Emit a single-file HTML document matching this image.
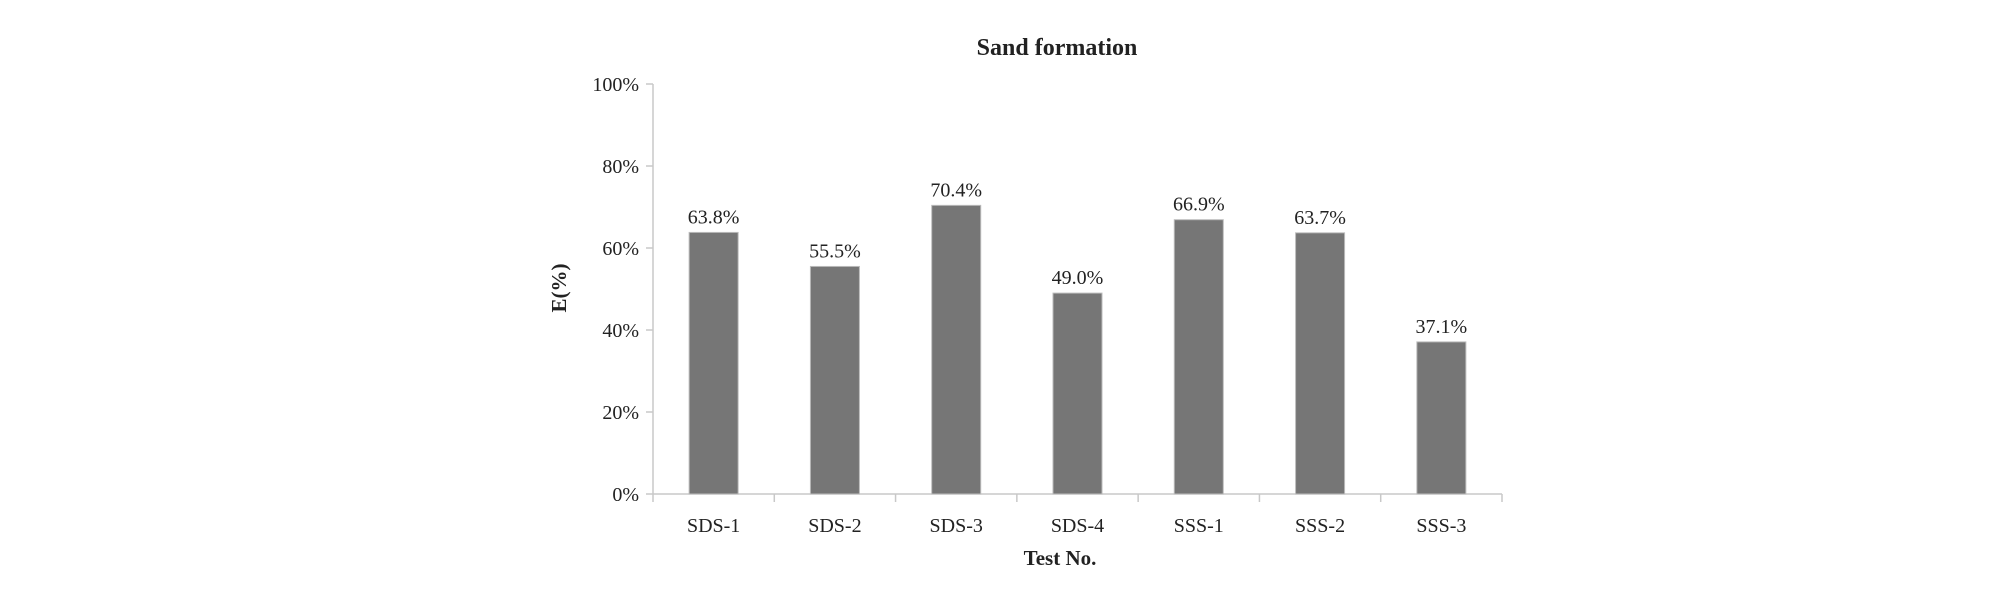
<!DOCTYPE html>
<html><head><meta charset="utf-8"><style>
body{margin:0;background:#fff;}
svg text{font-family:"Liberation Serif",serif;fill:#222;}
</style></head><body>
<svg id="chart" width="2008" height="586" viewBox="0 0 2008 586" xmlns="http://www.w3.org/2000/svg">
<text x="1057" y="55" text-anchor="middle" font-size="24" font-weight="bold">Sand formation</text>
<text transform="translate(566,288) rotate(-90)" text-anchor="middle" font-size="21" font-weight="bold">E(%)</text>
<text x="1060" y="565" text-anchor="middle" font-size="21" font-weight="bold">Test No.</text>
<g id="axes"></g><g id="bars"></g>
</svg>
<script>
const categories=["SDS-1","SDS-2","SDS-3","SDS-4","SSS-1","SSS-2","SSS-3"];
const values=[63.8,55.5,70.4,49.0,66.9,63.7,37.1];
const valueLabels=["63.8%","55.5%","70.4%","49.0%","66.9%","63.7%","37.1%"];
const yTicks=[0,20,40,60,80,100];
const yTickLabels=["0%","20%","40%","60%","80%","100%"];
const NS="http://www.w3.org/2000/svg";
const x0=653,x1=1502,y0=494,yTop=84;
const bw=(x1-x0)/categories.length;
function y(v){return y0-(v/100)*(y0-yTop);}
function xc(i){return x0+bw*(i+0.5);}
function mk(t,a,p){const e=document.createElementNS(NS,t);for(const k in a)e.setAttribute(k,a[k]);p.appendChild(e);return e;}
const ax=document.getElementById('axes'),bg=document.getElementById('bars');
const yl=mk('line',{x1:x0,y1:y(100),x2:x0,y2:y0,stroke:'#c8c8c8','stroke-width':1.5},ax);


const xl=mk('line',{x1:x0,y1:y0,x2:x1,y2:y0,stroke:'#c8c8c8','stroke-width':1.5},ax);


yTicks.forEach((t,i)=>{
  mk('line',{x1:x0-7,y1:y(t),x2:x0,y2:y(t),stroke:'#c8c8c8','stroke-width':1.5},ax);
  const tx=mk('text',{x:x0-14,y:y(t)+7,'text-anchor':'end','font-size':20},ax);
  tx.textContent=yTickLabels[i];
  
  
});
for(let i=0;i<=categories.length;i++){
  mk('line',{x1:x0+bw*i,y1:y0,x2:x0+bw*i,y2:y0+8,stroke:'#c8c8c8','stroke-width':1.5},ax);
}
categories.forEach((c,i)=>{
  const w=49;
  const r=mk('rect',{x:xc(i)-w/2,y:y(values[i]),width:w,height:y0-y(values[i]),fill:'#767676',stroke:'#bbb','stroke-width':1},bg);
  
  
  const vl=mk('text',{x:xc(i),y:y(values[i])-9,'text-anchor':'middle','font-size':20},bg);
  vl.textContent=valueLabels[i];
  
  
  const cl=mk('text',{x:xc(i),y:y0+38,'text-anchor':'middle','font-size':20},bg);
  cl.textContent=c;
  
  
});
</script>
</body></html>
